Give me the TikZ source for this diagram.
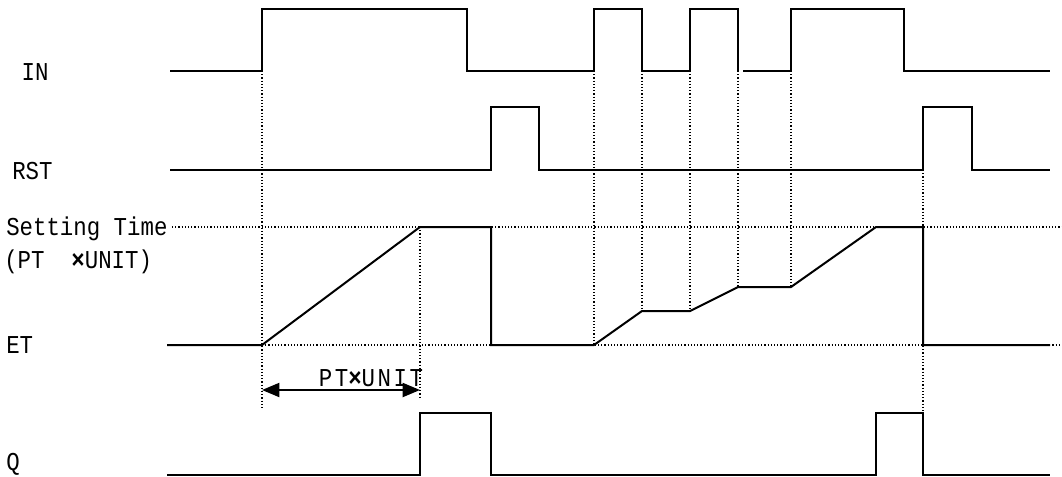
\documentclass[tikz,border=0pt]{standalone}
\usepackage{fontspec}
\newfontfamily\labfont[FakeStretch=0.87]{Liberation Mono}
\newfontfamily\labfontwide[FakeStretch=0.87,LetterSpace=10]{Liberation Mono}
\usetikzlibrary{arrows.meta}
\begin{document}
\begin{tikzpicture}[x=0.75pt,y=-0.75pt,
  sig/.style={line width=1.5pt, line join=miter},
  guide/.style={line width=0.9pt, dash pattern=on 0.9pt off 1.5pt},
  lab/.style={font=\labfont\fontsize{19.3}{23}\selectfont, inner sep=0pt, anchor=base west},
  dimlab/.style={font=\labfontwide\fontsize{19.3}{23}\selectfont, inner sep=0pt, anchor=base},
  dimarrow/.style={line width=1.5pt, {Triangle[length=13pt,width=10.5pt]}-{Triangle[length=13pt,width=10.5pt]}}]
\useasboundingbox (0,0) rectangle (1062,477);

% labels
\node[lab] (lIN)  at (8,81)   {~IN};
\node[lab] (lRST) at (12,180) {RST};
\node[lab] (lset) at (6,235)  {Setting Time};
\node[lab] (lpt)  at (4,268)  {(PT~~{\bfseries ×}UNIT)};
\node[lab] (lET)  at (6,353)  {ET};
\node[lab] (lQ)   at (6,470)  {Q};

% guide lines (dotted)
\draw[guide] (172,227) -- (1062,227);
\draw[guide] (262,345) -- (1062,345);
\draw[guide] (262,71) -- (262,408);
\draw[guide] (420,227) -- (420,397);
\draw[guide] (594,71) -- (594,345);
\draw[guide] (642,71) -- (642,311);
\draw[guide] (690,71) -- (690,311);
\draw[guide] (738,71) -- (738,287);
\draw[guide] (791,71) -- (791,287);
\draw[guide] (923,170) -- (923,413);

% IN
\draw[sig] (170,71) -- (262,71) -- (262,9) -- (467,9) -- (467,71) -- (594,71)
  -- (594,9) -- (642,9) -- (642,71) -- (690,71) -- (690,9) -- (738,9) -- (738,71);
\draw[sig] (743,71) -- (791,71) -- (791,9) -- (904,9) -- (904,71) -- (1050,71);

% RST
\draw[sig] (170,170) -- (491,170) -- (491,107) -- (539,107) -- (539,170)
  -- (923,170) -- (923,107) -- (972,107) -- (972,170) -- (1050,170);

% ET
\draw[sig] (167,345) -- (262,345) -- (420,227) -- (491,227) -- (491,345)
  -- (594,345) -- (642,311) -- (690,311) -- (738,287) -- (791,287)
  -- (876,227) -- (923,227) -- (923,345) -- (1050,345);

% Q
\draw[sig] (167,475) -- (420,475) -- (420,413) -- (491,413) -- (491,475)
  -- (876,475) -- (876,413) -- (923,413) -- (923,475) -- (1050,475);

% dimension arrow
\coordinate (a1) at (262,390);
\coordinate (a2) at (420,390);
\draw[dimarrow] (a1) -- (a2);
\node[dimlab] (ptunit) at (371,386) {PT{\bfseries ×}UNIT};
\end{tikzpicture}
\end{document}
